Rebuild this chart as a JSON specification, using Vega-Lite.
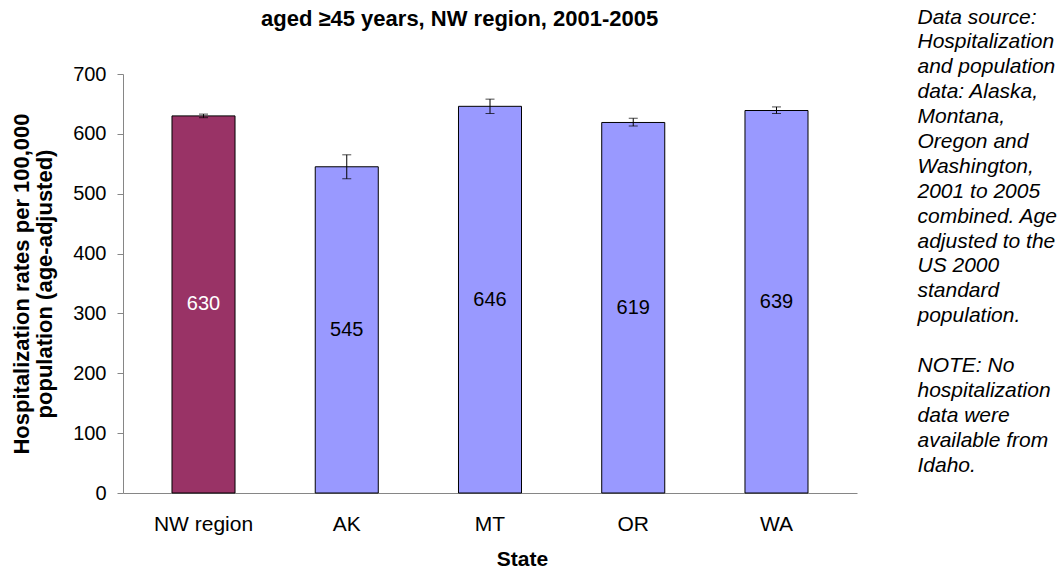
{
  "$schema": "https://vega.github.io/schema/vega-lite/v6.json",
  "width": 734,
  "height": 419,
  "autosize": "none",
  "padding": {"left": 123, "top": 74, "right": 204, "bottom": 80},
  "background": "white",
  "config": {"font": "Liberation Sans", "view": {"stroke": null}},
  "title": {
    "text": "aged ≥45 years, NW region, 2001-2005",
    "anchor": "start",
    "frame": "group",
    "dx": 138,
    "offset": 0,
    "dy": 25,
    "fontSize": 22,
    "fontWeight": "bold",
    "font": "Liberation Sans",
    "color": "black"
  },
  "data": {
    "values": [
      {"State": "NW region", "rate": 630, "lo": 627, "hi": 633, "group": "region"},
      {"State": "AK", "rate": 545, "lo": 525, "hi": 565, "group": "state"},
      {"State": "MT", "rate": 646, "lo": 634, "hi": 658, "group": "state"},
      {"State": "OR", "rate": 619, "lo": 613, "hi": 626, "group": "state"},
      {"State": "WA", "rate": 639, "lo": 634, "hi": 645, "group": "state"}
    ]
  },
  "encoding": {
    "x": {
      "field": "State",
      "type": "nominal",
      "sort": null,
      "scale": {"paddingInner": 0.56, "paddingOuter": 0.342},
      "axis": {
        "title": "State",
        "titleFontSize": 21,
        "titleFontWeight": "bold",
        "titleColor": "black",
        "titlePadding": 14,
        "titleX": 399,
        "labelFontSize": 21,
        "labelColor": "black",
        "labelAngle": 0,
        "labelPadding": 20,
        "ticks": false,
        "domainColor": "#868686",
        "domainWidth": 1
      }
    }
  },
  "layer": [
    {
      "layer": [
        {
          "mark": {"type": "bar", "stroke": "black", "strokeWidth": 1},
          "encoding": {
            "y": {
              "field": "rate",
              "type": "quantitative",
              "scale": {"domain": [0, 700], "nice": false},
              "axis": {
                "values": [0, 100, 200, 300, 400, 500, 600, 700],
                "grid": false,
                "title": ["Hospitalization rates per 100,000", "population (age-adjusted)"],
                "titleFontSize": 22,
                "titleFontWeight": "bold",
                "titleColor": "black",
                "titleLineHeight": 23,
                "titlePadding": 16,
                "labelFontSize": 20,
                "labelColor": "black",
                "labelPadding": 11,
                "tickSize": 6,
                "tickColor": "#868686",
                "domainColor": "#868686"
              }
            },
            "color": {
              "field": "group",
              "type": "nominal",
              "scale": {"domain": ["region", "state"], "range": ["#993366", "#9999FF"]},
              "legend": null
            }
          }
        },
        {
          "mark": {"type": "rule", "color": "black", "strokeWidth": 1},
          "encoding": {
            "y": {"field": "lo", "type": "quantitative"},
            "y2": {"field": "hi"}
          }
        },
        {
          "mark": {"type": "tick", "color": "black", "thickness": 1, "size": 9},
          "encoding": {"y": {"field": "lo", "type": "quantitative"}}
        },
        {
          "mark": {"type": "tick", "color": "black", "thickness": 1, "size": 9},
          "encoding": {"y": {"field": "hi", "type": "quantitative"}}
        }
      ]
    },
    {
      "transform": [{"calculate": "datum.rate / 2", "as": "mid"}],
      "mark": {"type": "text", "fontSize": 20, "baseline": "middle", "align": "center"},
      "encoding": {
        "y": {
          "field": "mid",
          "type": "quantitative",
          "scale": {"domain": [0, 700], "nice": false},
          "axis": {
            "orient": "right",
            "labels": false,
            "ticks": false,
            "domain": false,
            "grid": false,
            "title": ["Data source:", "Hospitalization", "and population", "data: Alaska,", "Montana,", "Oregon and", "Washington,", "2001 to 2005", "combined. Age", "adjusted to the", "US 2000", "standard", "population.", "\u2800", "NOTE: No", "hospitalization", "data were", "available from", "Idaho."],
            "titleAngle": 0,
            "titleAlign": "left",
            "titleBaseline": "top",
            "titleX": 60,
            "titleY": -68,
            "titleFontSize": 21,
            "titleFontWeight": "normal",
            "titleFontStyle": "italic",
            "titleColor": "black",
            "titleLineHeight": 24.9
          }
        },
        "text": {"field": "rate", "type": "quantitative"},
        "color": {
          "condition": {"test": "datum.group === 'region'", "value": "white"},
          "value": "black"
        }
      }
    }
  ],
  "resolve": {"scale": {"y": "independent"}}
}
